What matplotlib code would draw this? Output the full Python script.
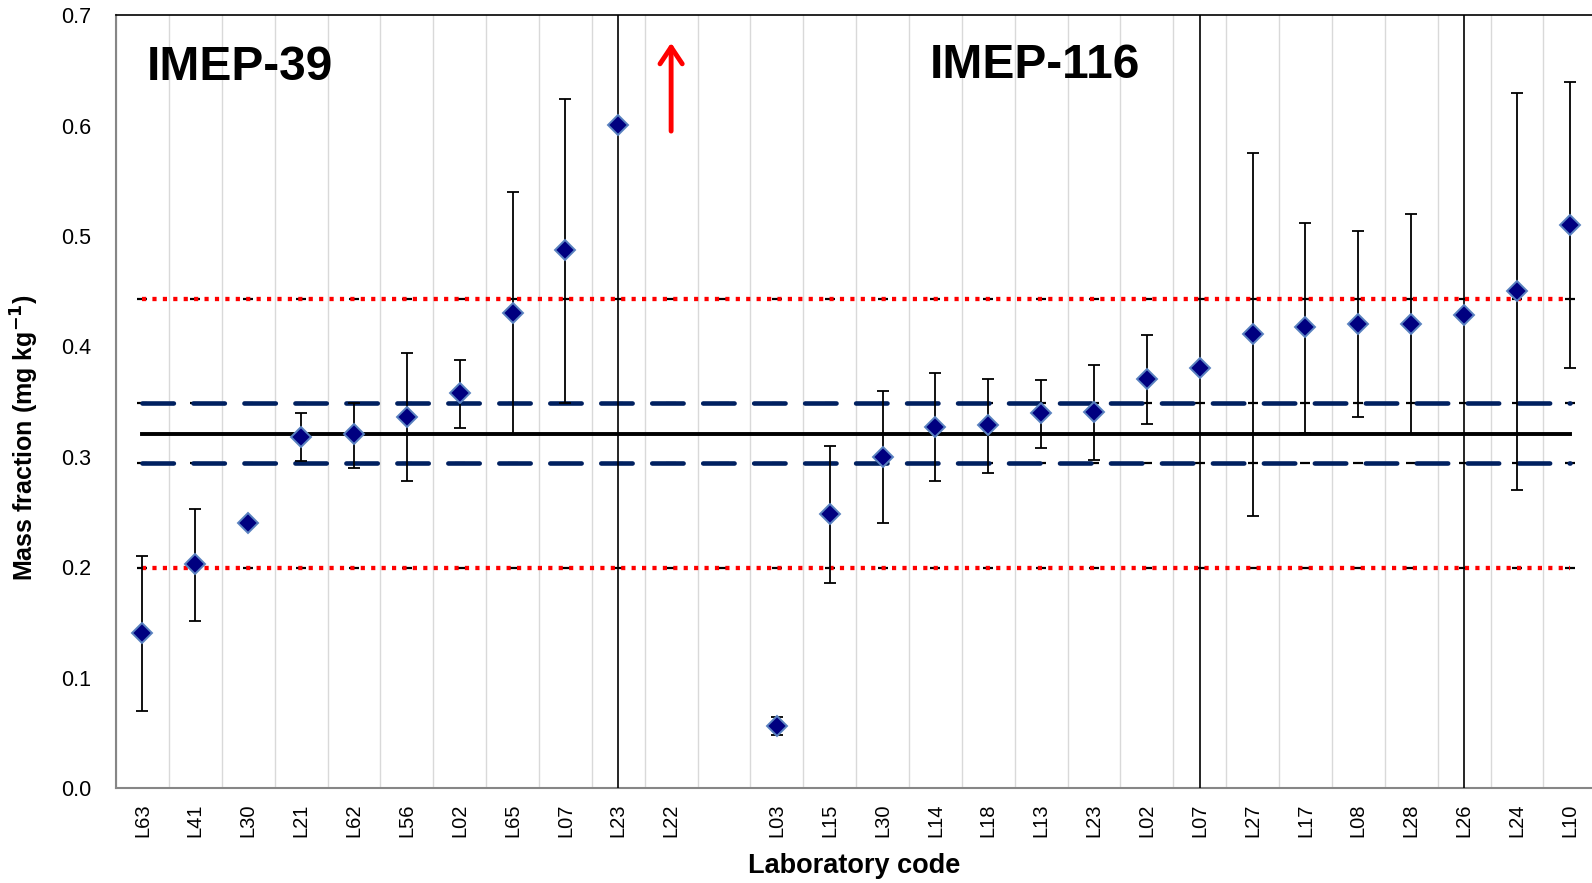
import numpy as np
import matplotlib
matplotlib.use('Agg')
import matplotlib.pyplot as plt
from matplotlib import font_manager

plt.rcParams['font.family'] = ['Liberation Sans', 'DejaVu Sans']
plt.rcParams['lines.scale_dashes'] = False

# laboratory codes (empty slot separates the two rounds)
labs = ['L63', 'L41', 'L30', 'L21', 'L62', 'L56', 'L02', 'L65', 'L07', 'L23', 'L22', '',
        'L03', 'L15', 'L30', 'L14', 'L18', 'L13', 'L23', 'L02', 'L07', 'L27', 'L17', 'L08',
        'L28', 'L26', 'L24', 'L10']

nan = np.nan
mass = [0.1407, 0.2026, 0.240, 0.3182, 0.3203, 0.3364, 0.3575, 0.430, 0.4873, 0.6005, nan, nan,
        0.0565, 0.2482, 0.3001, 0.3273, 0.3285, 0.3394, 0.341, 0.3705, 0.3807, 0.4112, 0.4176, 0.4206,
        0.4206, 0.4284, 0.4505, 0.510]
upper = [0.2098, 0.253, nan, 0.340, 0.3484, 0.3940, 0.3877, 0.540, 0.624, nan, nan, nan,
         0.0643, 0.3098, 0.3596, 0.3762, 0.3708, 0.370, 0.383, 0.410, nan, 0.5752, 0.512, 0.5042,
         0.520, nan, 0.6298, 0.6398]
lower = [0.070, 0.1513, nan, 0.2962, 0.2896, 0.2780, 0.3258, 0.3204, 0.349, nan, nan, nan,
         0.048, 0.186, 0.2403, 0.2781, 0.285, 0.3083, 0.297, 0.330, nan, 0.2467, 0.3213, 0.3364,
         0.3207, nan, 0.2696, 0.380]

# assigned value, +/- uncertainty and +/- sigma_p limits
x_ref = 0.321
u_hi, u_lo = 0.349, 0.294
s_hi, s_lo = 0.443, 0.1996

separators = ['L23', 'L07', 'L26']  # vertical lines at these positions
sep_idx = [9, 20, 25]

x = np.arange(len(labs))
mass = np.array(mass)
upper = np.array(upper)
lower = np.array(lower)

# narrow font for the lab codes if we have it
names = set(f.name for f in font_manager.fontManager.ttflist)
if 'Liberation Sans Narrow' in names:
    tick_font, tick_size = 'Liberation Sans Narrow', 17
else:
    tick_font, tick_size = 'Liberation Sans', 14.5

fig = plt.figure(figsize=(15.92, 8.83), dpi=100)
ax = fig.add_axes([0.0729, 0.1076, 0.9271, 0.8752])

# light vertical grid between categories
ax.set_xticks(x - 0.5, minor=True)
ax.grid(True, which='minor', axis='x', color='#d9d9d9', lw=1, zorder=0)

# reference lines with little black tick markers at each category
for val in [s_hi, s_lo, u_hi, u_lo]:
    ax.plot(x, [val] * len(x), ls='none', marker='_', ms=6.5, mew=1.6, color='k', zorder=2)

ax.plot(x, [s_hi] * len(x), color='#ff0000', lw=3.1, zorder=3, dash_capstyle='butt',
        ls=(0, (3.0, 4.5)))
ax.plot(x, [s_lo] * len(x), color='#ff0000', lw=3.1, zorder=3, dash_capstyle='butt',
        ls=(0, (3.0, 4.5)))
ax.plot(x, [u_hi] * len(x), color='#002060', lw=3.3, zorder=3, dash_capstyle='round',
        ls=(0, (22.6, 14.1)))
ax.plot(x, [u_lo] * len(x), color='#002060', lw=3.3, zorder=3, dash_capstyle='round',
        ls=(0, (22.6, 14.1)))
ax.plot(x, [x_ref] * len(x), color='k', lw=2.8, zorder=3)

for i in sep_idx:
    ax.axvline(x[i], color='k', lw=1.2, zorder=4)

ax.errorbar(x, mass, yerr=[mass - lower, upper - mass], fmt='none', ecolor='k',
            elinewidth=1.3, capsize=4.2, capthick=1.3, zorder=5)
ax.plot(x, mass, ls='none', marker='D', ms=9.8, mfc='#000080', mec='#5a82c0', mew=1.4, zorder=6)

# L22 result is off scale
ax.annotate('', xy=(10, 0.675), xytext=(10, 0.595),
            arrowprops=dict(arrowstyle='->, head_length=0.6, head_width=0.4', color='#ff0000',
                            lw=3.5, mutation_scale=20, shrinkA=0, shrinkB=0), zorder=7)

ax.text(0.09, 0.6526, 'IMEP-39', fontsize=34.5, fontweight='bold', ha='left', va='center')
ax.text(14.9, 0.654, 'IMEP-116', fontsize=34.5, fontweight='bold', ha='left', va='center')

ax.set_xlim(-0.5, 27.42)
ax.set_ylim(0, 0.7)
ax.set_xticks(x)
ax.set_xticklabels(labs, rotation=90, fontsize=tick_size, family=[tick_font, 'DejaVu Sans'])
ax.set_yticks(np.arange(0, 0.71, 0.1))
ax.set_yticklabels(['%.1f' % v for v in np.arange(0, 0.71, 0.1)], fontsize=15.5)
ax.tick_params(axis='both', which='both', length=0)
ax.tick_params(axis='y', pad=18)
ax.tick_params(axis='x', pad=11)

ax.set_xlabel('Laboratory code', fontsize=19.5, fontweight='bold', va='center')
ax.xaxis.set_label_coords(0.5, -0.101)
ax.set_ylabel('Mass fraction (mg kg$^{\\mathbf{-1}}$)', fontsize=18, fontweight='bold', va='center')
ax.yaxis.set_label_coords(-0.0617, 0.453)

ax.spines['right'].set_visible(False)
ax.spines['top'].set_color('k')
ax.spines['top'].set_linewidth(1.2)
for s in ['left', 'bottom']:
    ax.spines[s].set_color('#868686')
    ax.spines[s].set_linewidth(1.5)

fig.savefig('out.png', dpi=100)
